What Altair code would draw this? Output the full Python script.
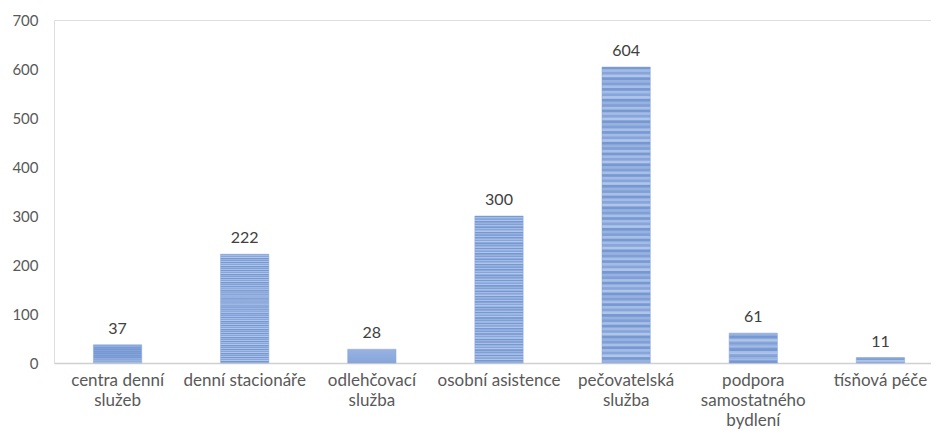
import altair as alt
import pandas as pd

categories = [
    "centra denní|služeb",
    "denní stacionáře",
    "odlehčovací|služba",
    "osobní asistence",
    "pečovatelská|služba",
    "podpora|samostatného|bydlení",
    "tísňová péče",
]
values = [37, 222, 28, 300, 604, 61, 11]

df = pd.DataFrame({"cat": categories, "val": values})

# striped fill like the reference (horizontal bands)
palette = ["#7698d3", "#a4bce5", "#86a5da", "#b0c5e8", "#7597d2", "#98b2e0", "#7f9fd6", "#a9c0e6"]
stops = []
n = 110
for i in range(n):
    c = palette[i % len(palette)]
    stops.append(alt.GradientStop(offset=i / n, color=c))
    stops.append(alt.GradientStop(offset=(i + 0.6) / n, color=c))
grad = alt.LinearGradient(gradient="linear", stops=stops, x1=0, x2=0, y1=0, y2=1)

font = "Lato"
gray = "#595959"

x = alt.X(
    "cat:N",
    sort=categories,
    scale=alt.Scale(paddingInner=0.62, paddingOuter=0.31, range=[0, 890]),
    axis=alt.Axis(
        title=None,
        labelAngle=0,
        labelExpr="split(datum.label, '|')",
        labelFont=font,
        labelFontSize=17,
        labelColor=gray,
        labelPadding=9,
        labelLineHeight=20,
        ticks=False,
        domainColor="#d0d0d0",
        domainWidth=1.5,
        labelLimit=200,
    ),
)
y = alt.Y(
    "val:Q",
    scale=alt.Scale(domain=[0, 700]),
    axis=alt.Axis(
        title=None,
        values=[0, 100, 200, 300, 400, 500, 600, 700],
        grid=False,
        domain=False,
        ticks=False,
        labelFont=font,
        labelFontSize=15,
        labelColor=gray,
        labelPadding=16,
    ),
)

bars = alt.Chart(df).mark_bar(color=grad, stroke="#86a4d8", strokeWidth=0.5).encode(x=x, y=y)
labels = alt.Chart(df).mark_text(
    baseline="bottom", dy=-8, font=font, fontSize=16, color="#404040"
).encode(x=x, y=y, text="val:Q")

chart = (
    (bars + labels)
    .properties(
        width=877,
        height=343,
        padding={"left": 46, "top": 12, "right": 0, "bottom": 66},
        autosize=alt.AutoSizeParams(type="none"),
    )
    .configure_view(stroke=None)
    .configure(background="white")
)

chart.save("out.html", embed_options={"renderer": "svg", "actions": False})
